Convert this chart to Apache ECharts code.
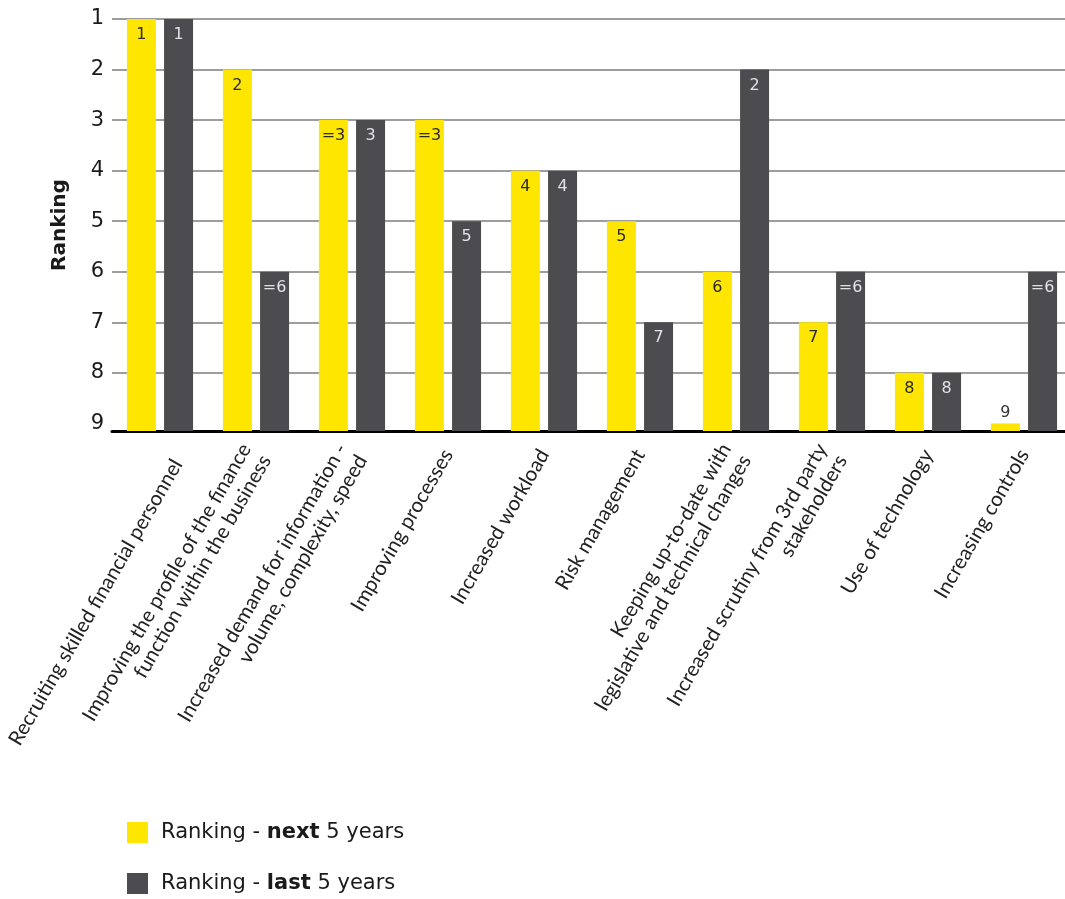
<!DOCTYPE html>
<html>
<head>
<meta charset="utf-8">
<script src="https://cdn.jsdelivr.net/npm/echarts@6/dist/echarts.min.js"></script>
<style>html,body{margin:0;padding:0;background:#fff;}#c{width:1065px;height:899px;}</style>
</head>
<body>
<div id="c"></div>
<script>
const categories = [
  'Recruiting skilled financial personnel',
  'Improving the profile of the finance\nfunction within the business',
  'Increased demand for information -\nvolume, complexity, speed',
  'Improving processes',
  'Increased workload',
  'Risk management',
  'Keeping up-to-date with\nlegislative and technical changes',
  'Increased scrutiny from 3rd party\nstakeholders',
  'Use of technology',
  'Increasing controls'
];
const rankNext = [1, 2, 3, 3, 4, 5, 6, 7, 8, 9];
const rankLast = [1, 6, 3, 5, 4, 7, 2, 6, 8, 6];
const labelNext = ['1', '2', '=3', '=3', '4', '5', '6', '7', '8', '9'];
const labelLast = ['1', '=6', '3', '5', '4', '7', '2', '=6', '8', '=6'];
const seriesNames = ['Ranking - next 5 years', 'Ranking - last 5 years'];
const rankMin = 1;
const rankBase = 9.15; // bottom of the ranking axis (bars grow from here)

const YELLOW = '#FFE600';
const GREY = '#4B4B50';
const FONT = 'DejaVu Sans';
const CAT_FONT = 'Lato';

function barData(ranks, labels, dark) {
  return ranks.map((r, i) => ({
    value: rankBase - r,
    label: {
      formatter: labels[i],
      position: r >= 9 ? 'top' : 'insideTop',
      distance: r >= 9 ? 3 : 8,
      color: r >= 9 ? '#333' : (dark ? '#e2e2e2' : '#2a2a2a')
    }
  }));
}

const chart = echarts.init(document.getElementById('c'), null, {renderer: 'canvas'});
const gridColors = [];
for (let v = 1; v <= 8; v++) gridColors.push('#9d9d9d');
gridColors.push('rgba(0,0,0,0)', 'rgba(0,0,0,0)');

chart.setOption({
  animation: false,
  backgroundColor: '#fff',
  textStyle: {fontFamily: FONT},
  grid: {left: 112, right: -7, top: 19, bottom: 468, containLabel: false, outerBoundsMode: 'none'},
  legend: {
    data: seriesNames,
    orient: 'vertical',
    left: 127,
    top: 822,
    padding: 0,
    itemWidth: 21,
    itemHeight: 21,
    itemGap: 30,
    icon: 'rect',
    formatter: function (name) {
      const w = name.indexOf('next') >= 0 ? 'next' : 'last';
      return '{p|Ranking - }{b|' + w + '}{a| 5 years}';
    },
    textStyle: {
      rich: {
        p: {fontFamily: FONT, fontSize: 21, color: '#1a1a1a', padding: [0, 0, 0, 8]},
        a: {fontFamily: FONT, fontSize: 21, color: '#1a1a1a'},
        b: {fontFamily: FONT, fontSize: 21, fontWeight: 'bold', color: '#1a1a1a'}
      }
    }
  },
  xAxis: {
    type: 'category',
    data: categories,
    position: 'bottom',
    axisLine: {onZero: false, lineStyle: {color: '#000', width: 3}},
    axisTick: {show: false},
    axisLabel: {
      interval: 0,
      rotate: 60,
      margin: 20,
      fontFamily: CAT_FONT,
      fontSize: 20.5,
      lineHeight: 23,
      color: '#222',
      // the first label sits a little further right in the original
      formatter: function (v, i) { return i === 0 ? '{f|' + v + '}' : v; },
      rich: {
        f: {fontFamily: CAT_FONT, fontSize: 20.5, lineHeight: 23, color: '#222', padding: [40, 0, 0, 0]}
      }
    },
    splitLine: {show: false}
  },
  yAxis: {
    type: 'value',
    inverse: true,
    min: rankMin,
    max: rankBase,
    interval: 1,
    name: 'Ranking',
    nameLocation: 'middle',
    nameGap: 42,
    nameRotate: 90,
    nameTextStyle: {fontFamily: FONT, fontSize: 20, fontWeight: 'bold', color: '#1a1a1a'},
    axisLine: {show: false},
    axisTick: {show: false},
    axisLabel: {
      showMaxLabel: false,
      margin: 8,
      fontFamily: FONT,
      fontSize: 21,
      color: '#1a1a1a'
    },
    splitLine: {show: true, lineStyle: {color: gridColors, width: 2}}
  },
  series: [
    {
      name: 'baseNext', type: 'bar', stack: 'next', silent: true,
      data: rankNext, itemStyle: {color: 'rgba(0,0,0,0)'}, barWidth: 29, barGap: '28%'
    },
    {
      name: seriesNames[0], type: 'bar', stack: 'next',
      data: barData(rankNext, labelNext, false),
      itemStyle: {color: YELLOW}, barWidth: 29, barGap: '28%',
      label: {show: true, fontFamily: FONT, fontSize: 16}
    },
    {
      name: 'baseLast', type: 'bar', stack: 'last', silent: true,
      data: rankLast, itemStyle: {color: 'rgba(0,0,0,0)'}, barWidth: 29, barGap: '28%'
    },
    {
      name: seriesNames[1], type: 'bar', stack: 'last',
      data: barData(rankLast, labelLast, true),
      itemStyle: {color: GREY}, barWidth: 29, barGap: '28%',
      label: {show: true, fontFamily: FONT, fontSize: 16}
    }
  ],
  color: [YELLOW, YELLOW, GREY, GREY]
});
</script>
</body>
</html>
